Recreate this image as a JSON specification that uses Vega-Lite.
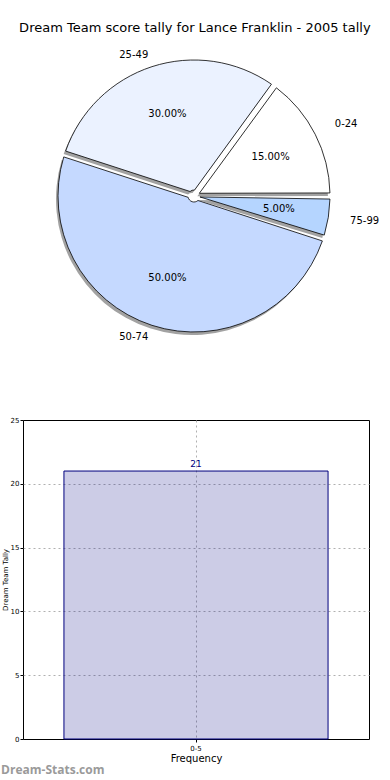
{
  "$schema": "https://vega.github.io/schema/vega-lite/v6.json",
  "padding": {"top": 22, "left": 0, "right": 0, "bottom": 0},
  "background": "white",
  "title": {"text": "Dream Team score tally for Lance Franklin - 2005 tally", "font": "DejaVu Sans", "fontSize": 13, "fontWeight": "normal", "color": "black", "anchor": "middle", "offset": 4, "dx": 5},
  "datasets": {
    "pie": [
      {"range": "0-24", "share": 0.15},
      {"range": "25-49", "share": 0.30},
      {"range": "50-74", "share": 0.50},
      {"range": "75-99", "share": 0.05}
    ],
    "bar": [
      {"bin": "0-5", "count": 21}
    ]
  },
  "spacing": 62,
  "vconcat": [
    {
      "width": 342,
      "height": 314,
      "data": {"name": "pie"},
      "encoding": {
        "theta": {"field": "share", "type": "quantitative", "stack": true, "scale": {"range": [1.5708, -4.7124]}},
        "order": {"field": "range", "sort": "ascending"}
      },
      "layer": [
        {
          "mark": {"type": "arc", "outerRadius": 136, "innerRadius": 6, "padAngle": 0.045, "fill": "#7a7a7a", "opacity": 0.7, "xOffset": -2, "yOffset": 3}
        },
        {
          "mark": {"type": "arc", "outerRadius": 136, "innerRadius": 6, "padAngle": 0.045, "stroke": "black", "strokeWidth": 0.8},
          "encoding": {
            "color": {"field": "range", "type": "nominal", "legend": null,
              "scale": {"domain": ["0-24", "25-49", "50-74", "75-99"], "range": ["#ffffff", "#ebf2ff", "#c5d9ff", "#b5d5ff"]}}
          }
        },
        {
          "mark": {"type": "text", "radius": 86, "font": "DejaVu Sans", "fontSize": 10, "color": "black"},
          "encoding": {"text": {"field": "share", "type": "quantitative", "format": ".2%"}}
        },
        {
          "mark": {"type": "text", "radius": 158, "align": "left", "baseline": "middle", "font": "DejaVu Sans", "fontSize": 10, "color": "black"},
          "encoding": {"text": {"condition": {"test": "datum.range === '0-24' || datum.range === '75-99'", "field": "range"}, "value": ""}}
        },
        {
          "mark": {"type": "text", "radius": 148, "align": "right", "baseline": "middle", "font": "DejaVu Sans", "fontSize": 10, "color": "black"},
          "encoding": {"text": {"condition": {"test": "datum.range === '25-49' || datum.range === '50-74'", "field": "range"}, "value": ""}}
        }
      ]
    },
    {
      "width": 346,
      "height": 319,
      "data": {"name": "bar"},
      "title": {"text": "Dream-Stats.com", "orient": "bottom", "anchor": "start", "frame": "bounds", "offset": 2, "font": "Open Sans", "fontSize": 12, "fontWeight": "bold", "color": "#9a9a9a"},
      "encoding": {
        "x": {"field": "bin", "type": "nominal", "title": "Frequency",
          "scale": {"paddingInner": 0, "paddingOuter": 0.155},
          "axis": {"labelAngle": 0, "tickBand": "center", "labelFontSize": 7, "labelFont": "DejaVu Sans", "titleFont": "DejaVu Sans", "titleFontSize": 10, "titleFontWeight": "normal", "labelPadding": 2, "titlePadding": 2, "tickSize": 3, "domain": false, "grid": true, "zindex": 0}},
        "y": {"field": "count", "type": "quantitative", "title": "Dream Team Tally",
          "scale": {"domain": [0, 25]},
          "axis": {"values": [0, 5, 10, 15, 20, 25], "labelFontSize": 7, "labelFont": "DejaVu Sans", "titleFont": "DejaVu Sans", "titleFontSize": 7, "titleFontWeight": "normal", "labelPadding": 1, "titlePadding": 2, "tickSize": 3, "domain": false, "grid": true, "zindex": 0,
            "gridOpacity": {"condition": {"test": "datum.value === 0 || datum.value === 25", "value": 0}, "value": 1}}}
      },
      "layer": [
        {"mark": {"type": "bar", "fill": "#000080", "fillOpacity": 0.2, "stroke": "#00007f", "strokeWidth": 1}},
        {"mark": {"type": "text", "dy": -7, "font": "DejaVu Sans", "fontSize": 9, "color": "#00007f"},
          "encoding": {"text": {"field": "count", "type": "quantitative"}}}
      ]
    }
  ],
  "config": {
    "view": {"stroke": "black", "strokeWidth": 1},
    "axis": {"tickColor": "black", "labelColor": "black", "titleColor": "black", "gridColor": "#b0b0b0", "gridDash": [2, 3], "gridWidth": 1}
  }
}
